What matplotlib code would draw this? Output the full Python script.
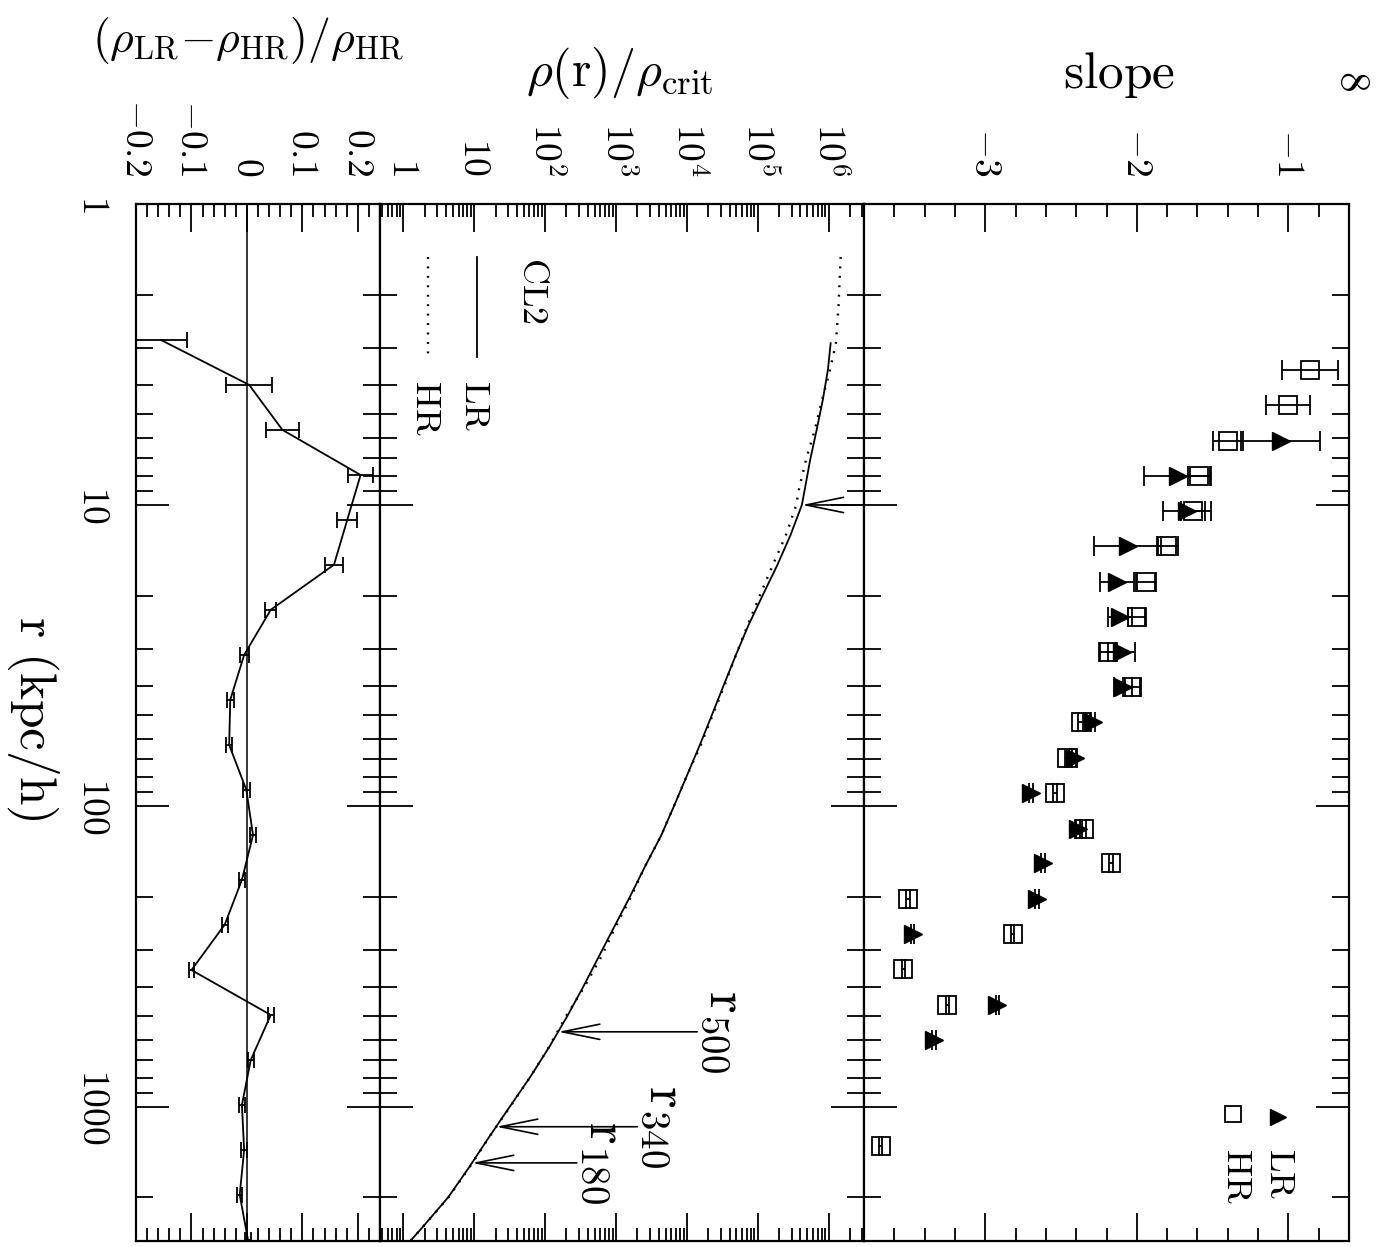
import numpy as np
import matplotlib
matplotlib.use("Agg")
import matplotlib.pyplot as plt
from matplotlib.ticker import (FixedLocator, FixedFormatter, MultipleLocator,
                               LogLocator, NullFormatter)

plt.rcParams["mathtext.fontset"] = "cm"
plt.rcParams["font.family"] = ["DejaVu Serif"]
plt.rcParams["axes.linewidth"] = 1.6

# ---------------- data ----------------
# logarithmic slope of the density profile (HR = high resolution, LR = low resolution)
r_slope_hr = [3.56, 4.66, 6.11, 8.00, 10.5, 13.7, 18.0, 23.5, 30.8, 40.4,
              52.8, 69.2, 90.6, 119, 155, 204, 267, 349, 457, 1345]
slope_hr = [-0.855, -1.00, -1.40, -1.59, -1.63, -1.80, -1.94, -2.00, -2.19, -2.03,
            -2.37, -2.46, -2.54, -2.35, -2.17, -3.51, -2.82, -3.54, -3.25, -3.69]
slope_hr_err = [0.185, 0.145, 0.10, 0.07, 0.08, 0.07, 0.065, 0.055, 0.05, 0.05,
                0.015, 0.012, 0.012, 0.012, 0.012, 0.012, 0.012, 0.012, 0.012, 0.012]

r_slope_lr = [6.11, 8.00, 10.5, 13.7, 18.0, 23.5, 30.8, 40.4, 52.8, 69.2,
              90.6, 119, 155, 204, 267, 457, 599]
slope_lr = [-1.05, -1.73, -1.67, -2.06, -2.13, -2.11, -2.10, -2.09, -2.29, -2.41,
            -2.70, -2.39, -2.62, -2.66, -3.48, -2.92, -3.34]
slope_lr_err = [0.26, 0.22, 0.16, 0.22, 0.11, 0.08, 0.09, 0.06, 0.015, 0.015,
                0.012, 0.012, 0.012, 0.012, 0.012, 0.012, 0.012]

# density profile in units of the critical density
r_dens_lr = [2.9, 3.55, 4.47, 5.62, 7.08, 8.91, 10.0, 12.6, 15.8, 20.0, 25.1,
             31.6, 39.8, 50.1, 63.1, 79.4, 100, 126, 158, 200, 251, 316, 398,
             501, 631, 794, 1000, 1259, 1585, 1995, 2512, 2786]
rho_lr = [1.07e6, 9.8e5, 8.3e5, 6.8e5, 5.5e5, 4.6e5, 4.2e5, 2.9e5, 1.9e5, 1.17e5,
          7.4e4, 4.9e4, 3.3e4, 2.24e4, 1.51e4, 1.0e4, 6.6e3, 4.3e3, 2.6e3, 1.58e3,
          955, 575, 347, 204, 115, 62, 31.6, 16.2, 8.5, 4.3, 1.86, 1.26]
r_dens_hr = [1.5, 2.2, 2.9, 3.55, 4.47, 5.62, 7.08, 8.91, 10.0, 12.6, 15.8, 20.0,
             25.1, 31.6, 39.8, 50.1, 63.1, 79.4, 100, 126, 158, 200, 251, 316,
             398, 501, 631, 794, 1000, 1259, 1585, 1995, 2512, 2786]
rho_hr = [1.48e6, 1.38e6, 1.27e6, 1.05e6, 8.1e5, 6.4e5, 4.8e5, 3.8e5, 3.5e5,
          2.5e5, 1.64e5, 1.07e5, 7.2e4, 4.9e4, 3.4e4, 2.3e4, 1.56e4, 1.0e4,
          6.6e3, 4.3e3, 2.6e3, 1.63e3, 995, 625, 361, 196, 114, 62, 31.9, 16.3,
          8.6, 4.35, 1.86, 1.26]

# radii marked with arrows on the profile
r_soft = 10
r_marks = [563, 1164, 1535]
mark_names = ["500", "340", "180"]
mark_tail_rho = [1.4e4, 2.0e3, 2.8e2]

# fractional density difference (LR - HR) / HR
r_res = [2.83, 3.99, 5.63, 7.95, 11.2, 15.8, 22.3, 31.5, 44.4, 62.7, 88.5,
         125, 176, 248, 351, 495, 698, 985, 1390, 1960, 2767]
res = [-0.155, 0.004, 0.064, 0.205, 0.181, 0.157, 0.043, -0.005, -0.030, -0.032,
       -0.001, 0.011, -0.009, -0.040, -0.100, 0.043, 0.007, -0.009, -0.005, -0.013, 0.002]
res_err = [0.047, 0.042, 0.030, 0.023, 0.018, 0.016, 0.010, 0.008, 0.006, 0.006,
           0.006, 0.006, 0.005, 0.005, 0.005, 0.005, 0.005, 0.005, 0.005, 0.005, 0.005]

# tick values and labels
r_ticks = [1, 10, 100, 1000]
r_ticklabels = [r"$1$", r"$10$", r"$100$", r"$1000$"]
res_ticks = [-0.2, -0.1, 0.0, 0.1, 0.2]
res_ticklabels = [r"$-0.2$", r"$-0.1$", r"$0$", r"$0.1$", r"$0.2$"]
rho_ticks = [1, 10, 1e2, 1e3, 1e4, 1e5, 1e6]
rho_ticklabels = [r"$1$", r"$10$", r"$10^{2}$", r"$10^{3}$", r"$10^{4}$",
                  r"$10^{5}$", r"$10^{6}$"]
slope_ticks = [-3, -2, -1]
slope_ticklabels = [r"$-3$", r"$-2$", r"$-1$"]

# ---------------- figure ----------------
W, H = 1388, 1247
fig = plt.figure(figsize=(W / 100, H / 100), dpi=100)


def box(x0, x1, y0, y1):
    return [x0 / W, 1 - y1 / H, (x1 - x0) / W, (y1 - y0) / H]


ax_res = fig.add_axes(box(136, 380, 204, 1241))
ax_den = fig.add_axes(box(380, 864, 204, 1241), sharey=ax_res)
ax_slp = fig.add_axes(box(864, 1349, 204, 1241), sharey=ax_res)

ax_res.set_yscale("log")
ax_res.set_ylim(2790, 1)
ax_res.yaxis.set_major_locator(FixedLocator(r_ticks))
ax_res.yaxis.set_major_formatter(FixedFormatter(r_ticklabels))
ax_res.yaxis.set_minor_locator(LogLocator(base=10, subs=np.arange(2, 10), numticks=30))
ax_res.yaxis.set_minor_formatter(NullFormatter())

LW = 1.3
TICKFS = 27


def style(ax):
    ax.tick_params(axis="both", which="both", direction="in", top=True, bottom=True,
                   left=True, right=True, width=1.3, color="black")
    ax.tick_params(axis="x", which="major", length=20)
    ax.tick_params(axis="x", which="minor", length=9.5)
    ax.tick_params(axis="y", which="major", length=24)
    ax.tick_params(axis="y", which="minor", length=12.5)
    ax.tick_params(axis="x", which="both", labeltop=True, labelbottom=False,
                   labelrotation=-90, labelsize=TICKFS, pad=20)
    ax.tick_params(axis="y", which="both", labelleft=False, labelright=False)


for a in (ax_res, ax_den, ax_slp):
    style(a)

ax_res.tick_params(axis="y", which="major", labelleft=True, labelrotation=-90,
                   labelsize=TICKFS, pad=18)
plt.setp(ax_res.get_yticklabels(), va="center")

# ---- residual panel ----
ax_res.set_xlim(-0.2, 0.24)
ax_res.xaxis.set_major_locator(FixedLocator(res_ticks))
ax_res.xaxis.set_major_formatter(FixedFormatter(res_ticklabels))
ax_res.xaxis.set_minor_locator(MultipleLocator(0.02))
ax_res.axvline(0, color="black", lw=1.1)
ax_res.errorbar(res, r_res, xerr=res_err, color="black", lw=LW, elinewidth=LW,
                capsize=5.5, capthick=LW)

# ---- density panel ----
ax_den.set_xscale("log")
ax_den.set_xlim(10 ** -0.33, 10 ** 6.5)
ax_den.xaxis.set_major_locator(FixedLocator(rho_ticks))
ax_den.xaxis.set_major_formatter(FixedFormatter(rho_ticklabels))
ax_den.xaxis.set_minor_locator(LogLocator(base=10, subs=np.arange(2, 10), numticks=30))
ax_den.xaxis.set_minor_formatter(NullFormatter())
ax_den.plot(rho_lr, r_dens_lr, color="black", lw=LW)
ax_den.plot(rho_hr, r_dens_hr, color="black", lw=1.7, linestyle=(0, (0.8, 3.2)))


def rho_on_curve(r):
    return 10 ** np.interp(np.log10(r), np.log10(r_dens_lr), np.log10(rho_lr))


arrow = dict(arrowstyle="->, head_length=2.7, head_width=0.55", lw=1.2,
             color="black", mutation_scale=10, shrinkA=0, shrinkB=0)
ax_den.annotate("", xy=(rho_on_curve(r_soft), r_soft), xycoords="data",
                xytext=(1.0, r_soft), textcoords=("axes fraction", "data"),
                arrowprops=arrow)
for rm, name, tail in zip(r_marks, mark_names, mark_tail_rho):
    ax_den.annotate("", xy=(rho_on_curve(rm), rm), xytext=(tail, rm),
                    arrowprops=arrow)
    ax_den.text(tail * 1.05, rm, r"$\mathrm{r}_{%s}$" % name, rotation=-90,
                ha="left", va="center", fontsize=40)

# legend of the density panel
ax_den.text(0.316, 0.949, r"$\mathrm{CL2}$", transform=ax_den.transAxes,
            rotation=-90, ha="center", va="top", fontsize=26)
ax_den.plot([0.200, 0.200], [0.949, 0.852], transform=ax_den.transAxes,
            color="black", lw=LW)
ax_den.text(0.196, 0.830, r"$\mathrm{LR}$", transform=ax_den.transAxes,
            rotation=-90, ha="center", va="top", fontsize=26)
ax_den.plot([0.099, 0.099], [0.949, 0.852], transform=ax_den.transAxes,
            color="black", lw=1.7, linestyle=(0, (0.8, 3.2)))
ax_den.text(0.095, 0.830, r"$\mathrm{HR}$", transform=ax_den.transAxes,
            rotation=-90, ha="center", va="top", fontsize=26)

# ---- slope panel ----
ax_slp.set_xlim(-3.8, -0.6)
ax_slp.xaxis.set_major_locator(FixedLocator(slope_ticks))
ax_slp.xaxis.set_major_formatter(FixedFormatter(slope_ticklabels))
ax_slp.xaxis.set_minor_locator(MultipleLocator(0.2))
ax_slp.errorbar(slope_hr, r_slope_hr, xerr=slope_hr_err, fmt="s", ms=13,
                mfc="none", mec="black", mew=1.3, ecolor="black",
                elinewidth=LW, capsize=7, capthick=LW)
ax_slp.errorbar(slope_lr, r_slope_lr, xerr=slope_lr_err, fmt=">", ms=13,
                color="black", ecolor="black", elinewidth=LW, capsize=7,
                capthick=LW)

ax_slp.plot([0.854], [0.120], ">", ms=12, color="black", transform=ax_slp.transAxes)
ax_slp.plot([0.761], [0.122], "s", ms=12, mfc="none", mec="black", mew=1.3,
            transform=ax_slp.transAxes)
ax_slp.text(0.858, 0.0897, r"$\mathrm{LR}$", transform=ax_slp.transAxes,
            rotation=-90, ha="center", va="top", fontsize=26)
ax_slp.text(0.770, 0.0897, r"$\mathrm{HR}$", transform=ax_slp.transAxes,
            rotation=-90, ha="center", va="top", fontsize=26)

# ---- axis titles ----
fig.text(248 / W, 1 - 41 / H, r"$(\rho_{\rm LR}{-}\rho_{\rm HR})/\rho_{\rm HR}$",
         ha="center", va="center", fontsize=33)
fig.text(620 / W, 1 - 73 / H, r"$\rho(\mathrm{r})/\rho_{\rm crit}$",
         ha="center", va="center", fontsize=36)
fig.text(1119 / W, 1 - 75 / H, r"$\mathrm{slope}$", ha="center", va="center",
         fontsize=37)
fig.text(1352 / W, 1 - 80 / H, r"$8$", rotation=-90, ha="center", va="center",
         fontsize=30)
fig.text(33 / W, 1 - 718 / H, r"$\mathrm{r\ (kpc/h)}$", rotation=-90,
         ha="center", va="center", fontsize=37)

fig.savefig("out.png", dpi=100)
